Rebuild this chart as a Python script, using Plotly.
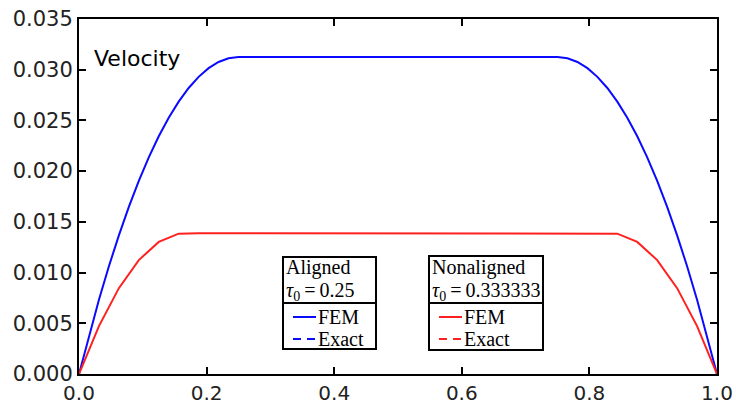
import plotly.graph_objects as go

# ---- data ----
blue_x = [0.0, 0.015625, 0.03125, 0.046875, 0.0625, 0.078125, 0.09375, 0.109375,
          0.125, 0.140625, 0.15625, 0.171875, 0.1875, 0.203125, 0.21875, 0.234375, 0.25,
          0.75, 0.765625, 0.78125, 0.796875, 0.8125, 0.828125, 0.84375, 0.859375,
          0.875, 0.890625, 0.90625, 0.921875, 0.9375, 0.953125, 0.96875, 0.984375, 1.0]
blue_y = [0.0, 0.003784, 0.007324, 0.010620, 0.013672, 0.016479, 0.019043, 0.021362,
          0.023438, 0.025269, 0.026855, 0.028198, 0.029297, 0.030151, 0.030762, 0.031128, 0.03125,
          0.03125, 0.031128, 0.030762, 0.030151, 0.029297, 0.028198, 0.026855, 0.025269,
          0.023438, 0.021362, 0.019043, 0.016479, 0.013672, 0.010620, 0.007324, 0.003784, 0.0]

red_x = [0.0, 0.03125, 0.0625, 0.09375, 0.125, 0.15625, 0.1875,
         0.8125, 0.84375, 0.875, 0.90625, 0.9375, 0.96875, 1.0]
red_y = [0.0, 0.004720, 0.008464, 0.011230, 0.013021, 0.013835, 0.013889,
         0.013889, 0.013835, 0.013021, 0.011230, 0.008464, 0.004720, 0.0]

x_ticks = [0.0, 0.2, 0.4, 0.6, 0.8, 1.0]
y_ticks = [0.0, 0.005, 0.010, 0.015, 0.020, 0.025, 0.030, 0.035]

BLUE = "#0a0aff"
RED = "#ff2020"

W, H = 736, 404
ML, MR, MT, MB = 79, 19, 19, 30
PW, PH = W - ML - MR, H - MT - MB


def px(x):
    return (x - ML) / PW


def py(y):
    return (H - MB - y) / PH


fig = go.Figure()
fig.add_trace(go.Scatter(x=blue_x, y=blue_y, mode="lines",
                         line=dict(color=BLUE, width=2), name="FEM aligned"))
fig.add_trace(go.Scatter(x=red_x, y=red_y, mode="lines",
                         line=dict(color=RED, width=2), name="FEM nonaligned"))

shapes = []
annotations = []

serif = dict(family="Liberation Serif", size=20, color="black")


def legend_box(x0, x1, y0, y1, ydiv, title1, title2, color):
    shapes.append(dict(type="rect", xref="paper", yref="paper",
                       x0=px(x0), x1=px(x1), y0=py(y1), y1=py(y0),
                       line=dict(color="black", width=2), fillcolor="white", layer="above"))
    shapes.append(dict(type="line", xref="paper", yref="paper",
                       x0=px(x0), x1=px(x1), y0=py(ydiv), y1=py(ydiv),
                       line=dict(color="black", width=2), layer="above"))
    annotations.append(dict(text=title1, xref="paper", yref="paper", x=px(x0 + 1), y=py(267),
                            xanchor="left", yanchor="middle", showarrow=False, font=serif))
    annotations.append(dict(text=title2, xref="paper", yref="paper", x=px(x0 + 1), y=py(291),
                            xanchor="left", yanchor="middle", showarrow=False, font=serif))
    shapes.append(dict(type="line", xref="paper", yref="paper",
                       x0=px(x0 + 10), x1=px(x0 + 33), y0=py(317), y1=py(317),
                       line=dict(color=color, width=2), layer="above"))
    shapes.append(dict(type="line", xref="paper", yref="paper",
                       x0=px(x0 + 10), x1=px(x0 + 33), y0=py(339), y1=py(339),
                       line=dict(color=color, width=2, dash="8px,6px"), layer="above"))
    annotations.append(dict(text="FEM", xref="paper", yref="paper", x=px(x0 + 33), y=py(317),
                            xanchor="left", yanchor="middle", showarrow=False, font=serif))
    annotations.append(dict(text="Exact", xref="paper", yref="paper", x=px(x0 + 33), y=py(339),
                            xanchor="left", yanchor="middle", showarrow=False, font=serif))


legend_box(283, 376, 257, 349, 303, "Aligned",
           "<i>τ</i><sub>0</sub>\u2009=\u20090.25", BLUE)
legend_box(429, 543, 256, 350, 303, "Nonaligned",
           "<i>τ</i><sub>0</sub>\u2009=\u20090.333333", RED)

annotations.append(dict(text="Velocity", xref="paper", yref="paper", x=px(92), y=py(59),
                        xanchor="left", yanchor="middle", showarrow=False,
                        font=dict(family="DejaVu Sans", size=22, color="black")))

axis_common = dict(showline=True, linecolor="black", linewidth=2, mirror="ticks",
                   ticks="inside", ticklen=7, tickwidth=2, tickcolor="black",
                   showgrid=False, zeroline=False, automargin=False)

fig.update_layout(
    width=W, height=H,
    margin=dict(l=ML, r=MR, t=MT, b=MB, autoexpand=False),
    paper_bgcolor="white", plot_bgcolor="white",
    showlegend=False,
    shapes=shapes, annotations=annotations,
    xaxis=dict(range=[0, 1], tickvals=x_ticks, ticktext=[f"{v:.1f}" for v in x_ticks],
               ticklabelstandoff=0,
               tickfont=dict(family="DejaVu Sans", size=20, color="#222222"),
               **axis_common),
    yaxis=dict(range=[0, 0.035], tickvals=y_ticks, ticktext=[f"{v:.3f}" for v in y_ticks],
               tickfont=dict(family="DejaVu Sans", size=21, color="#222222"),
               **axis_common),
)

fig.write_html("out.html")
